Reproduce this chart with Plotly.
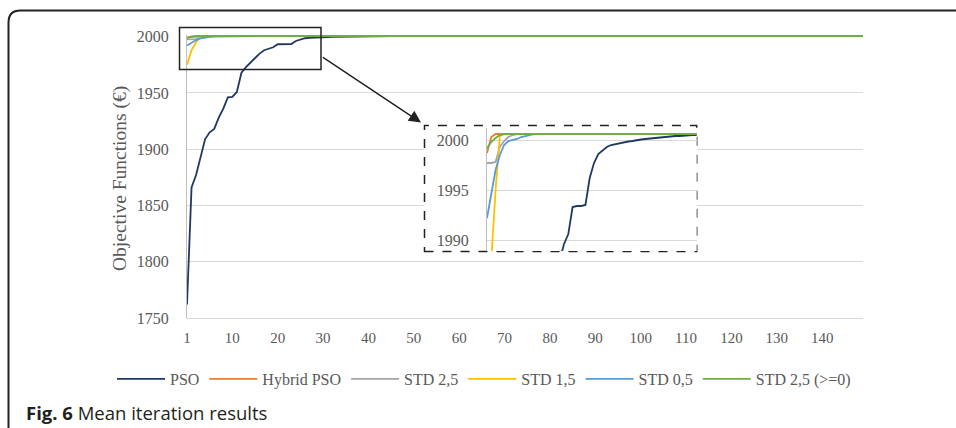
import plotly.graph_objects as go

# ---------------- data ----------------
# x position of each mean-iteration point (first point sits on the value axis)
iterations = list(range(0, 150))

pso_start = [1762, 1866, 1877, 1892, 1909, 1915, 1918, 1928, 1936, 1946,
             1946.5, 1951, 1968, 1973, 1977, 1981, 1985, 1988, 1989.6, 1990.6,
             1993.3, 1993.4, 1993.4, 1993.5, 1996.2, 1997.7, 1998.6, 1999.0, 1999.3, 1999.5,
             1999.6, 1999.7, 1999.75, 1999.85, 1999.9, 2000.0, 2000.05, 2000.1, 2000.15, 2000.2,
             2000.25, 2000.3, 2000.35, 2000.4, 2000.4, 2000.4, 2000.45, 2000.45, 2000.5, 2000.5]
hybrid_start = [1998.7, 2000.3, 2000.6]
std25_start = [1997.7, 1997.7, 1997.8, 1999.3, 1999.9, 2000.3, 2000.5, 2000.6]
std15_start = [1975, 1988, 1995, 2000.4, 2000.6]
std05_start = [1992.2, 1994.8, 1997.0, 1998.5, 1999.5, 1999.9, 2000.0, 2000.1, 2000.3, 2000.4,
               2000.5, 2000.6]
std25pos_start = [1999.2, 1999.8, 2000.2, 2000.5, 2000.6]

PSO_PLATEAU = 2000.5      # flat value after convergence
OTHER_PLATEAU = 2000.6


def full(start, plateau):
    return start + [plateau] * (len(iterations) - len(start))


pso = full(pso_start, PSO_PLATEAU)
hybrid = full(hybrid_start, OTHER_PLATEAU)
std25 = full(std25_start, OTHER_PLATEAU)
std15 = full(std15_start, OTHER_PLATEAU)
std05 = full(std05_start, OTHER_PLATEAU)
std25pos = full(std25pos_start, OTHER_PLATEAU)

series_names = ["PSO", "Hybrid PSO", "STD 2,5", "STD 1,5", "STD 0,5", "STD 2,5 (>=0)"]
series_values = [pso, hybrid, std25, std15, std05, std25pos]
series_colors = ["#203864", "#ED7D31", "#A5A5A5", "#FFC000", "#5B9BD5", "#70AD47"]

x_tickvals = [0, 10, 20, 30, 40, 50, 60, 70, 80, 90, 100, 110, 120, 130, 140]
x_ticktext = ["1", "10", "20", "30", "40", "50", "60", "70", "80", "90",
              "100", "110", "120", "130", "140"]
y_ticks = [1750, 1800, 1850, 1900, 1950, 2000]
inset_y_ticks = [1990, 1995, 2000]

# ---------------- layout geometry (pixels) ----------------
W, H = 956, 428
L, R, T, B = 187, 863, 35, 318
X_RANGE = [0, 149]
Y_RANGE = [1750, 2001.5]


def px(xp):
    return (xp - L) / (R - L)


def py(yp):
    return (B - yp) / (B - T)


def dx(xp):
    return X_RANGE[0] + (xp - L) / (R - L) * (X_RANGE[1] - X_RANGE[0])


def dy(yp):
    return Y_RANGE[0] + (B - yp) / (B - T) * (Y_RANGE[1] - Y_RANGE[0])


TXT = "#595959"
SERIF = "Liberation Serif"

fig = go.Figure()

for name, vals, col in zip(series_names, series_values, series_colors):
    fig.add_trace(go.Scatter(x=iterations, y=vals, name=name, mode="lines",
                             line=dict(color=col, width=1.8), xaxis="x", yaxis="y"))

for name, vals, col in zip(series_names, series_values, series_colors):
    fig.add_trace(go.Scatter(x=iterations, y=vals, name=name, mode="lines",
                             line=dict(color=col, width=1.8), xaxis="x2", yaxis="y2",
                             showlegend=False))

fig.update_layout(
    width=W, height=H,
    margin=dict(l=L, r=W - R, t=T, b=H - B, pad=0, autoexpand=False),
    paper_bgcolor="white", plot_bgcolor="white",
    font=dict(family=SERIF, size=16, color=TXT),
    xaxis=dict(range=X_RANGE, tickmode="array", tickvals=x_tickvals, ticktext=x_ticktext,
               showgrid=False, zeroline=False, showline=True, linecolor="#d9d9d9",
               linewidth=1, ticks="", tickfont=dict(size=15, color=TXT),
               ticklabelstandoff=6),
    yaxis=dict(range=Y_RANGE, tickmode="array", tickvals=y_ticks, showgrid=True,
               gridcolor="#d9d9d9", gridwidth=1, zeroline=False, showline=True,
               linecolor="#bfbfbf", linewidth=1, ticks="", ticklabelstandoff=14,
               tickfont=dict(size=16, color=TXT)),
    xaxis2=dict(domain=[px(487), px(696.7)], anchor="y2", range=[0, 49],
                showgrid=False, zeroline=False, showline=False, showticklabels=False,
                ticks=""),
    yaxis2=dict(domain=[py(251), py(128)], anchor="x2", range=[1988.9, 2001.2],
                tickmode="array", tickvals=inset_y_ticks, showgrid=True,
                gridcolor="#d9d9d9", gridwidth=1, zeroline=False, showline=True,
                linecolor="#bfbfbf", linewidth=1, ticks="", ticklabelstandoff=14,
                tickfont=dict(size=16, color=TXT)),
    legend=dict(orientation="h", x=px(112), xanchor="left", y=py(379), yanchor="middle",
                font=dict(family=SERIF, size=16, color=TXT), itemwidth=48,
                bgcolor="rgba(0,0,0,0)", tracegroupgap=0),
    showlegend=True,
)

# white inset panel with dashed border (drawn above main grid, below inset)
fig.add_shape(type="rect", xref="x", yref="y",
              x0=dx(424.5), x1=dx(696.7), y0=dy(251.5), y1=dy(125.5),
              line=dict(color="#222222", width=1.5, dash="dash"),
              fillcolor="white", layer="between")

# zoom rectangle on the main chart
fig.add_shape(type="rect", xref="paper", yref="paper",
              x0=px(179.5), x1=px(321), y0=py(69.5), y1=py(27.5),
              line=dict(color="#222222", width=1.5), fillcolor="rgba(0,0,0,0)",
              layer="above")

# arrow from zoom rectangle to the inset
fig.add_annotation(xref="paper", yref="paper", x=px(421), y=py(122.5),
                   ax=321.5 - 421, ay=56.5 - 122.5, axref="pixel", ayref="pixel",
                   text="", showarrow=True, arrowhead=2, arrowsize=1.6,
                   arrowwidth=1.5, arrowcolor="#222222", standoff=0)

# outer frame with rounded top-left corner
x_l, y_t, rad = px(8.5), py(10.5), 12
frame_path = (f"M {px(8.5)} {py(440)} L {x_l} {py(10.5 + rad)} "
              f"Q {x_l} {y_t} {px(8.5 + rad)} {y_t} L {px(970)} {y_t}")
fig.add_shape(type="path", xref="paper", yref="paper", path=frame_path,
              line=dict(color="#222222", width=2), layer="above")

# y-axis title
fig.add_annotation(xref="paper", yref="paper", x=px(120), y=py(179),
                   text="Objective Functions (€)", textangle=-90, showarrow=False,
                   font=dict(family=SERIF, size=19.5, color=TXT),
                   xanchor="center", yanchor="middle")

# caption
fig.add_annotation(xref="paper", yref="paper", x=px(24), y=py(412),
                   text="<b>Fig. 6</b> Mean iteration results", showarrow=False,
                   font=dict(family="Open Sans", size=18.5, color="#231f20"),
                   xanchor="left", yanchor="middle")

fig.write_html("out.html", config={"displayModeBar": False},
               post_script="document.body.style.margin='0';document.body.style.overflow='hidden';")
